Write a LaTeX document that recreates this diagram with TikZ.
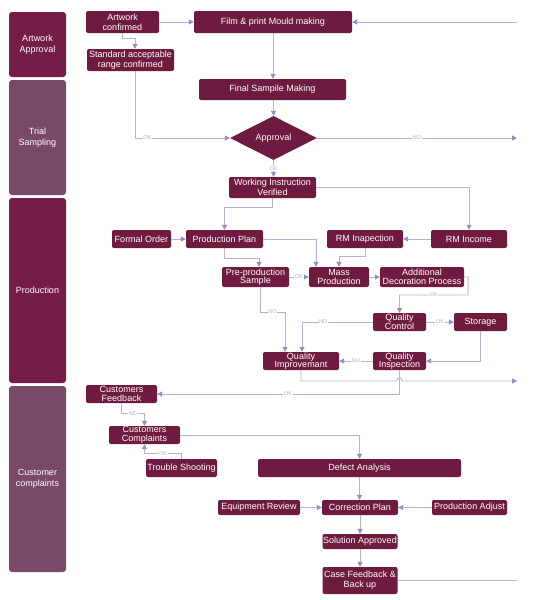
\documentclass[tikz,border=0pt]{standalone}
\usepackage{fontspec}
\setmainfont{Liberation Sans}
\usetikzlibrary{arrows.meta,shapes.geometric,calc}
\definecolor{boxc}{HTML}{6F1B40}
\definecolor{lanea}{HTML}{751D46}
\definecolor{laneb}{HTML}{7A4868}
\definecolor{linec}{HTML}{B3B3DB}
\definecolor{tipc}{HTML}{8E8ECC}
\definecolor{lblc}{HTML}{AAAACC}
\tikzset{
 sz/.style 2 args={minimum width=#1pt,minimum height=#2pt},
 box/.style={fill=boxc, rounded corners=2pt, text=white, font=\fontsize{9}{8.6}\selectfont, align=center, inner sep=0.3pt},
 wide/.style={font=\fontsize{9}{10}\selectfont},
 lane/.style={rounded corners=3pt, text=white, font=\fontsize{9}{10.5}\selectfont, align=center, inner sep=0pt},
 arr/.style={draw=linec, line width=0.95pt, -{Triangle[width=5pt,length=5pt,color=tipc]}},
 ln/.style={draw=linec, line width=0.95pt},
 lbl/.style={fill=white, text=lblc, font=\fontsize{5.5}{6}\selectfont, inner sep=0.6pt},
}
\begin{document}
\begin{tikzpicture}[x=1pt,y=-1pt]
\useasboundingbox (0,0) rectangle (550,600);
\fill[white] (0,0) rectangle (550,600);
% lanes
\node[lane, fill=lanea, sz={57}{65}]  (l1) at (37.5,44.5) {Artwork\\Approval};
\node[lane, fill=laneb, sz={57}{115}] (l2) at (37.5,137.5) {Trial\\Sampling};
\node[lane, fill=lanea, sz={57}{185}] (l3) at (37.5,290.5) {Production};
\node[lane, fill=laneb, sz={57}{186}] (l4) at (37.5,479) {Customer\\complaints};
% nodes
\node[box, wide, sz={73}{22}]  (aw)   at (122.5,22)  {Artwork\\confirmed};
\node[box, sz={158}{22}] (film) at (273,22)    {Film \& print Mould making};
\node[box, wide, sz={87}{22}]  (std)  at (130.5,60)  {Standard acceptable\\range confirmed};
\node[box, sz={147}{21}] (fsm)  at (272.5,89.5) {Final Sampile Making};
\node[diamond, aspect=2, fill=boxc, text=white, font=\fontsize{9}{8}\selectfont, minimum width=87pt, minimum height=44pt, inner sep=0pt] (appr) at (273.5,138) {Approval};
\node[box, wide, sz={87}{21}]  (wiv)  at (272.5,187.5) {Working Instruction\\Verified};
\node[box, sz={76}{18}]  (rminc) at (469,239)  {RM Income};
\node[box, sz={76}{18}]  (rmi)  at (365,239)   {RM Inapection};
\node[box, sz={59}{18}]  (fo)   at (141.5,239) {Formal Order};
\node[box, sz={77}{18}]  (pp)   at (224.5,239) {Production Plan};
\node[box, sz={67}{20}]  (pps)  at (255.5,277) {Pre-production\\Sample};
\node[box, sz={60}{20}]  (mp)   at (339,277)   {Mass\\Production};
\node[box, sz={84}{20}]  (adp)  at (422,277)   {Additional\\Decoration Process};
\node[box, sz={53}{18}]  (qc)   at (399.5,322) {Quality\\Control};
\node[box, sz={53}{18}]  (sto)  at (480.5,322) {Storage};
\node[box, sz={53}{18}]  (qins) at (399.5,361) {Quality\\Inspection};
\node[box, sz={76}{18}]  (qimp) at (301,361)   {Quality\\Improvemant};
\node[box, sz={71}{18}]  (cf)   at (121.5,394) {Customers\\Feedback};
\node[box, sz={71}{18}]  (cc)   at (144.5,435) {Customers\\Complaints};
\node[box, sz={71}{18}]  (ts)   at (181.5,468) {Trouble Shooting};
\node[box, sz={203}{18}] (da)   at (359.5,468) {Defect Analysis};
\node[box, sz={82}{15}]  (er)   at (259,507.5) {Equipment Review};
\node[box, sz={76}{15}]  (cp)   at (360,507.5) {Correction Plan};
\node[box, sz={75}{15}]  (pa)   at (469.5,507.5) {Production Adjust};
\node[box, sz={75}{15}]  (sa)   at (360,541.5) {Solution Approved};
\node[box, wide, sz={75}{27}]  (cfb)  at (360,580.5) {Case Feedback \&\\Back up};
% free ends
\coordinate (inF) at (517,22);
\coordinate (outNo) at (517,138);
\coordinate (outQ) at (517,381);
\coordinate (outC) at (517,580.5);
% connectors
\draw[arr] (aw.east) -- (film.west);
\draw[arr] (inF) -- (film.east);
\draw[arr] (aw.south) |- (135,38) -- (135,38 |- std.north);
\draw[arr] (std.south -| 135,0) -- (135,138) -- node[lbl,pos=0.13]{OK} (appr.west);
\draw[arr] (film.south) -- (film.south |- fsm.north);
\draw[arr] (fsm.south -| appr.north) -- (appr.north);
\draw[arr] (appr.east) -- node[lbl,pos=0.5]{NO} (outNo);
\draw[arr] (appr.south) -- node[lbl]{OK} (appr.south |- wiv.north);
\draw[arr] (wiv.east) -| (rminc.north);
\draw[arr] (wiv.south) -- ++(0,9.5) -| (pp.north);
\draw[arr] (fo.east) -- (pp.west);
\draw[arr] (rminc.west) -- (rmi.east);
\draw[arr] (pp.east) -| (316,0 |- mp.north);
\draw[arr] (rmi.south) -- ++(0,8) -| (mp.north);
\draw[arr] (pp.south) -- ++(0,10) -| ([xshift=3.5pt]pps.north);
\draw[arr] (pps.east) -- node[lbl]{OK} (mp.west);
\draw[arr] (mp.east) -- (adp.west);
\draw[arr] (adp.east) -- ++(4,0) -- (468,295) -- node[lbl]{OK} (399.5,295) -- (qc.north);
\draw[arr] (qc.east) -- node[lbl]{OK} (sto.west);
\draw[arr] (qc.west) -- node[lbl,pos=0.7]{NO} (302,322) -- (302,0 |- qimp.north);
\draw[arr] ([xshift=4.5pt]pps.south) -- (260,312) -- node[lbl]{NO} (285,312) -- (285,0 |- qimp.north);
\draw[arr] (sto.south) |- (qins.east);
\draw[arr] (qins.west) -- node[lbl]{NO} (qimp.east);
\draw[arr] (qimp.south) |- (396.5,381) arc[start angle=180,end angle=0,radius=3pt] -- (outQ);
\draw[arr] (qins.south) -- (399.5,394) -- node[lbl,pos=0.46]{OK} (cf.east);
\draw[arr] (cf.south) -- ++(0,10) -| node[lbl,pos=0.25]{NO} (cc.north);
\draw[arr] (ts.north) -- ++(0,-5) -| node[lbl,pos=0.25]{OK} (cc.south);
\draw[arr] (cc.east) -| (da.north);
\draw[arr] (da.south) -- (da.south |- cp.north);
\draw[arr] (er.east) -- (cp.west);
\draw[arr] (pa.west) -- (cp.east);
\draw[arr] (cp.south) -- (sa.north);
\draw[arr] (sa.south) -- (cfb.north);
\draw[ln] (cfb.east) -- (outC);
\end{tikzpicture}
\end{document}
